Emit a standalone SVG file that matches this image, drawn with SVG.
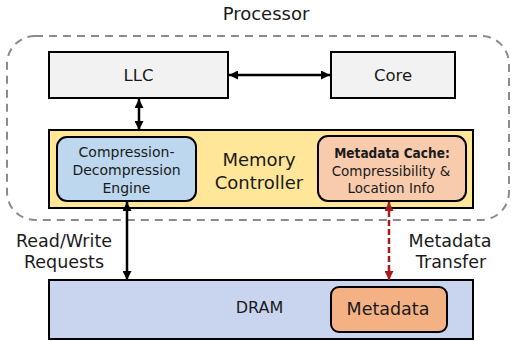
<svg xmlns="http://www.w3.org/2000/svg" width="511" height="341" viewBox="0 0 511 341">
<style>
text{font-family:"DejaVu Sans","Open Sans",sans-serif;fill:#1a1a1a;text-anchor:middle}
.cond{font-family:"DejaVu Sans Condensed","DejaVu Sans",sans-serif;font-weight:bold}
.box{stroke:#000;stroke-width:2}
.rbox{stroke:#000;stroke-width:2}
.conn{stroke:#000;stroke-width:2.5;fill:none}
.red{stroke:#A61C1C;stroke-width:2.5;fill:none;stroke-dasharray:6,3}
</style>
<defs>
<marker id="ah" viewBox="0 0 10 10" refX="10" refY="5" markerWidth="9" markerHeight="9" markerUnits="userSpaceOnUse" orient="auto-start-reverse"><path d="M0,0 L10,5 L0,10 z" fill="#000"/></marker>
<marker id="ahr" viewBox="0 0 10 10" refX="10" refY="5" markerWidth="9" markerHeight="9" markerUnits="userSpaceOnUse" orient="auto-start-reverse"><path d="M0,0 L10,5 L0,10 z" fill="#A61C1C"/></marker>
</defs>
<g id="processor">
<rect x="7" y="36" width="502" height="184" rx="28" ry="28" fill="none" stroke="#8c8c8c" stroke-width="2" stroke-dasharray="8,6"/>
<text x="266" y="20" font-size="18">Processor</text>
</g>
<g id="llc">
<rect class="box" x="49" y="52" width="179" height="46" fill="#F2F2F2"/>
<text x="138.5" y="81" font-size="16.5">LLC</text>
</g>
<g id="core">
<rect class="box" x="331" y="52" width="124" height="46" fill="#F2F2F2"/>
<text x="393" y="81" font-size="16.5">Core</text>
</g>
<g id="memory-controller">
<rect class="box" x="49" y="130" width="424" height="78" fill="#FFE699"/>
<text x="259" y="166" font-size="18">Memory</text>
<text x="259" y="189" font-size="18">Controller</text>
</g>
<g id="engine">
<rect class="rbox" x="57" y="137" width="139" height="64" rx="10" fill="#BDD7EE"/>
<text x="126.5" y="157" font-size="14">Compression-</text>
<text x="126.5" y="175" font-size="14">Decompression</text>
<text x="126.5" y="193" font-size="14">Engine</text>
</g>
<g id="metadata-cache">
<rect class="rbox" x="318" y="136" width="148" height="65" rx="10" fill="#F8CBAD"/>
<text class="cond" x="392" y="158" font-size="13.5">Metadata Cache:</text>
<text x="391" y="176" font-size="13.5">Compressibility &amp;</text>
<text x="391" y="193" font-size="13.5">Location Info</text>
</g>
<g id="dram">
<rect class="box" x="49" y="280" width="424" height="59" fill="#C9D5EE"/>
<text x="259.5" y="313" font-size="16">DRAM</text>
</g>
<g id="metadata">
<rect class="rbox" x="331" y="287" width="116" height="45" rx="8" fill="#F4B183"/>
<text x="388" y="315" font-size="17.5">Metadata</text>
</g>
<g id="labels">
<text x="64" y="247" font-size="17.5">Read/Write</text>
<text x="64" y="268" font-size="17.5">Requests</text>
<text x="450" y="247" font-size="17.5">Metadata</text>
<text x="451" y="268" font-size="17.5">Transfer</text>
</g>
<g id="connectors">
<line class="conn" x1="229" y1="75" x2="330" y2="75" marker-start="url(#ah)" marker-end="url(#ah)"/>
<line class="conn" x1="139" y1="99" x2="139" y2="130" marker-start="url(#ah)" marker-end="url(#ah)"/>
<line class="conn" x1="127" y1="202" x2="127" y2="280" marker-start="url(#ah)" marker-end="url(#ah)"/>
<line class="red" x1="389" y1="202" x2="389" y2="280" marker-start="url(#ahr)" marker-end="url(#ahr)"/>
</g>
</svg>
